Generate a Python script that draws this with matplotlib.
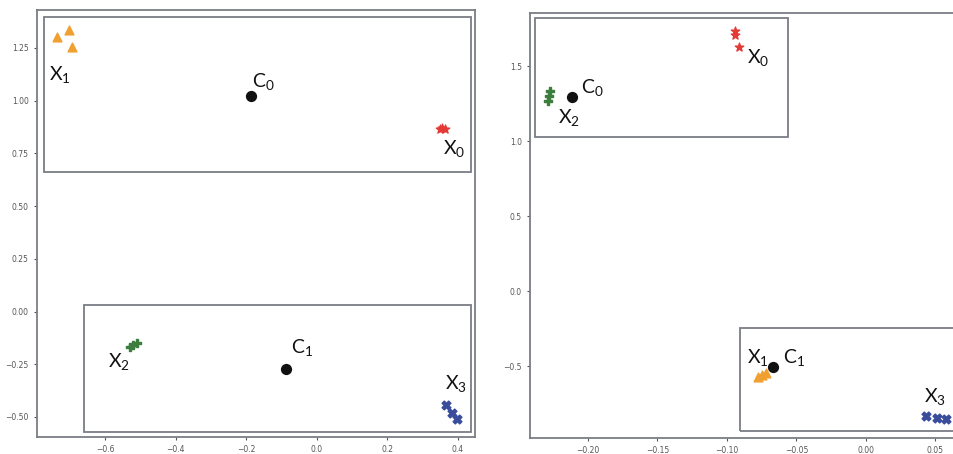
import matplotlib.pyplot as plt
from matplotlib.patches import Rectangle

plt.rcParams['mathtext.default'] = 'regular'

# cluster points, left panel
l_x0 = [0.350, 0.356, 0.362]
l_y0 = [0.868, 0.872, 0.868]
l_x1 = [-0.736, -0.702, -0.693]
l_y1 = [1.302, 1.335, 1.255]
l_x2 = [-0.530, -0.520, -0.510]
l_y2 = [-0.170, -0.160, -0.150]
l_x3 = [0.366, 0.383, 0.397]
l_y3 = [-0.442, -0.480, -0.509]
l_cx = [-0.186, -0.087]
l_cy = [1.022, -0.271]

# cluster points, right panel
r_x0 = [-0.0945, -0.0940, -0.0910]
r_y0 = [1.735, 1.705, 1.625]
r_x1 = [-0.078, -0.075, -0.072]
r_y1 = [-0.575, -0.562, -0.548]
r_x2 = [-0.229, -0.228, -0.227]
r_y2 = [1.270, 1.300, 1.335]
r_x3 = [0.0434, 0.0513, 0.0578]
r_y3 = [-0.833, -0.847, -0.853]
r_cx = [-0.2116, -0.067]
r_cy = [1.293, -0.507]

# group boxes (x0, y0, x1, y1)
l_boxes = [(-0.773, 0.661, 0.437, 1.397), (-0.659, -0.569, 0.437, 0.033)]
r_boxes = [(-0.238, 1.027, -0.0564, 1.82), (-0.0909, -0.933, 0.12, -0.247)]

l_xticks = [-0.6, -0.4, -0.2, 0.0, 0.2, 0.4]
l_yticks = [-0.50, -0.25, 0.00, 0.25, 0.50, 0.75, 1.00, 1.25]
r_xticks = [-0.20, -0.15, -0.10, -0.05, 0.00, 0.05]
r_yticks = [-0.5, 0.0, 0.5, 1.0, 1.5]

ORANGE = '#f0a030'
RED = '#e33a35'
GREEN = '#3d7d3d'
BLUE = '#3a4d9c'
EDGE = '#7a7d85'

fig = plt.figure(figsize=(9.54, 4.54), dpi=100)
ax1 = fig.add_axes([0.0388, 0.0374, 0.459, 0.9405])
ax2 = fig.add_axes([0.5556, 0.0352, 0.4500, 0.936])


def style(ax):
    for s in ax.spines.values():
        s.set_color(EDGE)
        s.set_linewidth(1.3)
    ax.tick_params(labelsize=5.5, colors='#555555', length=2.5, width=0.8)


def draw(ax, pts, cx, cy, boxes):
    (x0, y0), (x1, y1), (x2, y2), (x3, y3) = pts
    ax.scatter(x0, y0, marker='*', s=40, color=RED, zorder=3)
    ax.scatter(x1, y1, marker='^', s=40, color=ORANGE, zorder=3)
    ax.scatter(x2, y2, marker='P', s=40, color=GREEN, zorder=3)
    ax.scatter(x3, y3, marker='X', s=40, color=BLUE, zorder=3)
    ax.scatter(cx, cy, marker='o', s=50, color='#111111', zorder=4)
    for bx0, by0, bx1, by1 in boxes:
        ax.add_patch(Rectangle((bx0, by0), bx1 - bx0, by1 - by0, fill=False,
                               edgecolor=EDGE, linewidth=1.3, zorder=2))


lbl = dict(fontsize=14, color='#111111', ha='center', va='center', family='Lato')

draw(ax1, [(l_x0, l_y0), (l_x1, l_y1), (l_x2, l_y2), (l_x3, l_y3)], l_cx, l_cy, l_boxes)
ax1.set_xlim(-0.793, 0.448)
ax1.set_ylim(-0.595, 1.43)
ax1.set_xticks(l_xticks)
ax1.set_yticks(l_yticks)
ax1.text(-0.728, 1.125, r'X$_1$', **lbl)
ax1.text(-0.152, 1.09, r'C$_0$', **lbl)
ax1.text(0.390, 0.775, r'X$_0$', **lbl)
ax1.text(-0.562, -0.235, r'X$_2$', **lbl)
ax1.text(-0.043, -0.17, r'C$_1$', **lbl)
ax1.text(0.395, -0.34, r'X$_3$', **lbl)
style(ax1)

draw(ax2, [(r_x0, r_y0), (r_x1, r_y1), (r_x2, r_y2), (r_x3, r_y3)], r_cx, r_cy, r_boxes)
ax2.set_xlim(-0.2417, 0.0672)
ax2.set_ylim(-0.98, 1.853)
ax2.set_xticks(r_xticks)
ax2.set_yticks(r_yticks)
ax2.text(-0.0775, 1.56, r'X$_0$', **lbl)
ax2.text(-0.197, 1.36, r'C$_0$', **lbl)
ax2.text(-0.214, 1.16, r'X$_2$', **lbl)
ax2.text(-0.0775, -0.44, r'X$_1$', **lbl)
ax2.text(-0.052, -0.44, r'C$_1$', **lbl)
ax2.text(0.050, -0.70, r'X$_3$', **lbl)
style(ax2)

fig.savefig('out.png', dpi=100)
